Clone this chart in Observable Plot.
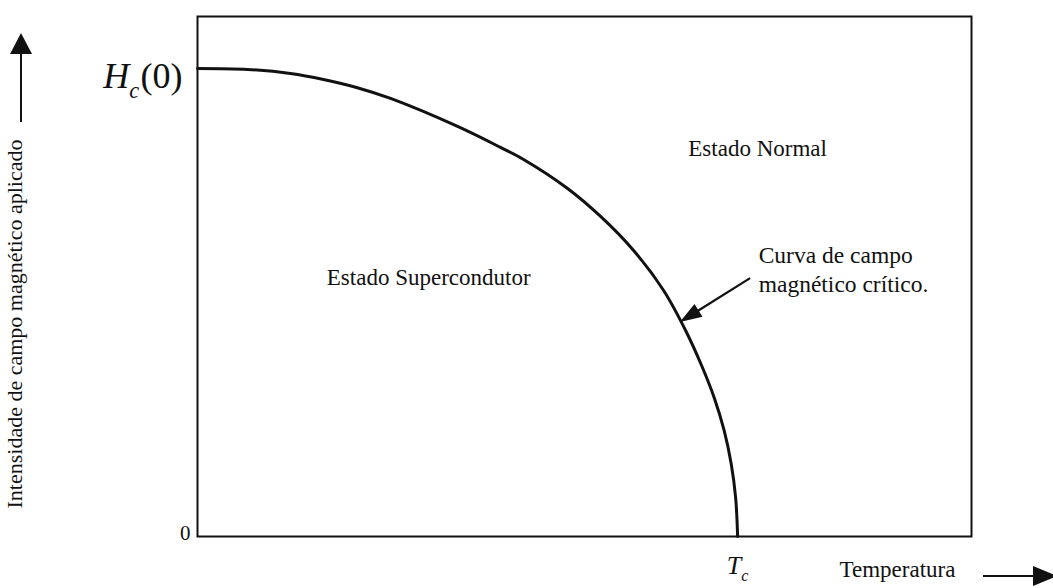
<!DOCTYPE html>
<html>
<head>
<meta charset="utf-8">
<script src="https://cdn.jsdelivr.net/npm/d3@7"></script>
<script src="https://cdn.jsdelivr.net/npm/@observablehq/plot@0.6"></script>
<style>
  html, body { margin: 0; padding: 0; background: #fff; }
  #chart svg { display: block; }
  #chart svg text { font-family: "Liberation Serif", "Times New Roman", Times, serif; }
</style>
</head>
<body>
<div id="chart"></div>
<script>
// Critical-field curve Hc(T): temperature in units of Tc, field in units of Hc(0)
const temperature = [0, 0.0926, 0.1722, 0.2333, 0.2944, 0.3574, 0.4815, 0.5611, 0.6037, 0.6852, 0.7463, 0.8074, 0.8630, 0.9037, 0.9333, 0.9565, 0.9750, 0.9880, 0.9963, 1.0];
const field       = [1.0, 0.9979, 0.9893, 0.9765, 0.9594, 0.9359, 0.8761, 0.8312, 0.8056, 0.7436, 0.6838, 0.6111, 0.5256, 0.4402, 0.3654, 0.2970, 0.2265, 0.1560, 0.0833, 0];

// Region names and where they sit (T, H)
const regionLabels = ["Estado Supercondutor", "Estado Normal"];
const regionT = [0.428, 1.037];
const regionH = [0.553, 0.829];

// Tick labels ("_" marks a subscript)
const yTickValues = [0, 1];
const yTickLabels = ["0", "H_c(0)"];
const xTickValues = [1];
const xTickLabels = ["T_c"];

// Axis titles
const xTitle = "Temperatura";
const yTitle = "Intensidade de campo magnético aplicado";

// Callout pointing at the curve
const noteLines = ["Curva de campo", "magnético crítico."];
const noteT = [1.039];
const noteH = [0.573];
const noteArrowFrom = [1.024, 0.551];
const noteArrowTo = [0.894, 0.457];

const FONT = "Liberation Serif, Times New Roman, Times, serif";
const INK = "#111";

// Line with a filled triangular head at (x2, y2)
function arrowPath(g, x1, y1, x2, y2, headLen, headWidth, strokeWidth) {
  const a = Math.atan2(y2 - y1, x2 - x1);
  const bx = x2 - headLen * Math.cos(a), by = y2 - headLen * Math.sin(a);
  const nx = -Math.sin(a) * headWidth / 2, ny = Math.cos(a) * headWidth / 2;
  g.append("line")
    .attr("x1", x1).attr("y1", y1)
    .attr("x2", bx + headLen * 0.2 * Math.cos(a)).attr("y2", by + headLen * 0.2 * Math.sin(a))
    .attr("stroke", INK).attr("stroke-width", strokeWidth);
  g.append("path")
    .attr("d", `M${x2},${y2}L${bx + nx},${by + ny}L${bx - nx},${by - ny}Z`)
    .attr("fill", INK);
}

// Callout arrow, placed through the x/y scales
const calloutArrow = (index, scales) => {
  const g = d3.create("svg:g");
  arrowPath(g,
    scales.x(noteArrowFrom[0]), scales.y(noteArrowFrom[1]),
    scales.x(noteArrowTo[0]), scales.y(noteArrowTo[1]),
    22, 15, 2.2);
  return g.node();
};

// Axis direction arrows beside the axis titles, placed from the frame margins
const axisArrows = (index, scales, values, dims) => {
  const g = d3.create("svg:g");
  const left = dims.marginLeft, bottom = dims.height - dims.marginBottom;
  arrowPath(g, left - 176, 122, left - 176, 33, 21, 22, 2);
  arrowPath(g, dims.width - 70, bottom + 40, dims.width + 4, bottom + 40, 24, 20, 2);
  return g.node();
};

const txt = {fill: INK, fontFamily: FONT};

const marks = [
  Plot.frame({stroke: INK, strokeWidth: 2}),
  Plot.line(temperature, {x: temperature, y: field, curve: "catmull-rom", stroke: INK, strokeWidth: 3}),
  Plot.text(regionLabels, {x: regionT, y: regionH, text: regionLabels, fontSize: 23, ...txt}),
  Plot.text([noteLines.join("\n")], {x: noteT, y: noteH, text: d => d, textAnchor: "start", fontSize: 23.5, lineHeight: 1.25, ...txt}),
  calloutArrow,
  // y tick labels
  Plot.text([yTickLabels[0]], {frameAnchor: "left", y: [yTickValues[0]], text: d => d, textAnchor: "end", dx: -7, dy: -3, fontSize: 21, ...txt}),
  Plot.text([yTickLabels[1]], {frameAnchor: "left", y: [yTickValues[1]], text: d => d, textAnchor: "end", dx: -15, dy: 8, fontSize: 36, ...txt}),
  // x tick label
  Plot.text(xTickLabels, {frameAnchor: "bottom", x: xTickValues, text: d => d, textAnchor: "middle", dy: 37, fontSize: 26, ...txt}),
  // axis titles
  Plot.text([xTitle], {frameAnchor: "bottom-right", text: d => d, textAnchor: "middle", dx: -74, dy: 40, fontSize: 23, ...txt}),
  Plot.text([yTitle], {frameAnchor: "bottom-left", text: d => d, rotate: -90, textAnchor: "start", dx: -176, dy: -28, fontSize: 22, ...txt}),
  axisArrows
];

const chart = Plot.plot({
  width: 1053,
  height: 588,
  marginLeft: 197,
  marginRight: 82,
  marginTop: 16,
  marginBottom: 52,
  style: `font-family: ${FONT}; background: #fff; overflow: visible;`,
  x: {domain: [0, 1.433], axis: null},
  y: {domain: [0, 1.111], axis: null},
  marks
});

// Turn "X_s rest" labels into italic symbol + subscript
d3.select(chart).selectAll("text").each(function () {
  const s = this.textContent;
  const m = /^([A-Za-z])_([A-Za-z])(.*)$/.exec(s);
  if (!m) return;
  const fs = parseFloat(this.getAttribute("font-size") || d3.select(this.parentNode).attr("font-size")) || 22;
  const t = d3.select(this);
  t.text(null);
  t.append("tspan").attr("font-style", "italic").text(m[1]);
  t.append("tspan").attr("font-style", "italic").attr("font-size", fs * 0.62).attr("dy", fs * 0.27).text(m[2]);
  if (m[3]) t.append("tspan").attr("dy", -fs * 0.27).attr("dx", fs * 0.04).text(m[3]);
});

document.getElementById("chart").appendChild(chart);
</script>
</body>
</html>
